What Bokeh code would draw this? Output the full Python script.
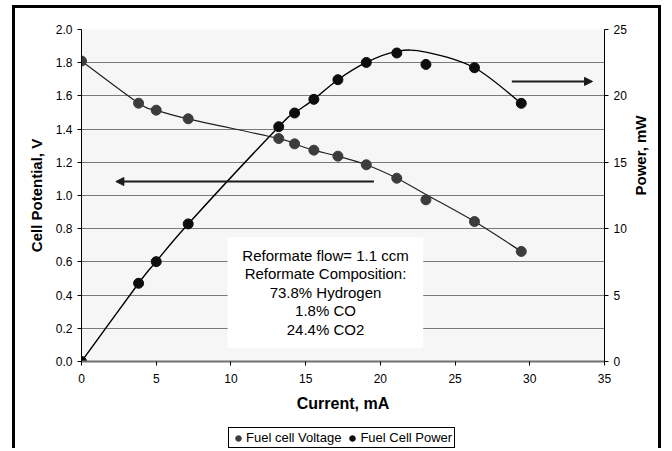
import math
import numpy as np
from bokeh.plotting import figure
from bokeh.layouts import column
from bokeh.models import (Range1d, LinearAxis, FixedTicker, PrintfTickFormatter,
                          Arrow, NormalHead, Legend, LegendItem)
from bokeh.core.properties import value
from bokeh.embed import file_html
from bokeh.resources import INLINE

# ---- data ----
current = [0.0, 3.82, 5.0, 7.14, 13.2, 14.26, 15.55, 17.16, 19.06, 21.1, 23.05, 26.3, 29.43]
voltage = [1.81, 1.556, 1.514, 1.462, 1.343, 1.311, 1.273, 1.237, 1.185, 1.104, 0.974, 0.843, 0.663]
power = [0.0, 5.89, 7.52, 10.36, 17.68, 18.71, 19.74, 21.22, 22.52, 23.23, 22.37, 22.12, 19.44]
# values followed by the drawn (smoothed) lines
voltage_line = [1.81, 1.556, 1.514, 1.462, 1.343, 1.311, 1.273, 1.237, 1.185, 1.104, 1.006, 0.843, 0.663]
power_line = [0.0, 5.89, 7.52, 10.36, 17.68, 18.71, 19.74, 21.22, 22.52, 23.35, 23.3, 22.12, 19.44]

x_ticks = [0, 5, 10, 15, 20, 25, 30, 35]
v_ticks = [0.0, 0.2, 0.4, 0.6, 0.8, 1.0, 1.2, 1.4, 1.6, 1.8, 2.0]
p_ticks = [0, 5, 10, 15, 20, 25]
note_lines = ["Reformate flow= 1.1 ccm", "Reformate Composition:",
              "73.8% Hydrogen", "1.8% CO", "24.4% CO2"]
series_names = ["Fuel cell Voltage", "Fuel Cell Power"]

FONT = "Liberation Sans"
V_COLOR = "#3c3c3c"
P_COLOR = "#0d0d0d"

p = figure(width=649, height=414, output_backend="svg", toolbar_location=None,
           x_range=Range1d(0, 35), y_range=Range1d(0, 2.0),
           min_border_left=66, min_border_right=60, min_border_top=21, min_border_bottom=61,
           background_fill_color="#f6f6f6", border_fill_color="white",
           outline_line_color=None)
p.styles = {"border-left": "3px solid black", "border-top": "3px solid black",
            "border-right": "3px solid black", "margin-left": "12px",
            "margin-top": "5px"}
p.extra_y_ranges = {"power": Range1d(0, 25)}

# grid
p.xgrid.visible = False
p.ygrid.ticker = FixedTicker(ticks=v_ticks)
p.ygrid.grid_line_color = "#7a7a7a"
p.ygrid.grid_line_width = 1.2

# axes
xa = p.xaxis[0]
xa.ticker = FixedTicker(ticks=x_ticks)
xa.axis_label = "Current, mA"
xa.axis_line_color = "#707070"
xa.axis_line_width = 2

ya = p.yaxis[0]
ya.ticker = FixedTicker(ticks=v_ticks)
ya.formatter = PrintfTickFormatter(format="%.1f")
ya.axis_label = "Cell Potential, V"
ya.axis_line_color = "black"

ra = LinearAxis(y_range_name="power", ticker=FixedTicker(ticks=p_ticks),
                axis_label="Power, mW")
p.add_layout(ra, "right")
if "axis_label_orientation" in ra.properties():
    ra.axis_label_orientation = math.pi / 2

for ax in (xa, ya, ra):
    ax.major_tick_in = 0
    ax.major_tick_out = 4
    ax.minor_tick_line_color = None
    ax.major_tick_line_color = "black"
    ax.major_label_text_font = FONT
    ax.major_label_text_font_size = "12px"
    ax.major_label_text_color = "black"
    ax.axis_label_text_font = FONT
    ax.axis_label_text_font_size = "15px"
    ax.axis_label_text_font_style = "bold"
    ax.axis_label_text_color = "black"
ra.axis_line_color = "black"
xa.axis_label_text_font_size = "16px"
xa.major_label_standoff = 8
xa.axis_label_standoff = 9
ya.axis_label_standoff = 8
ra.axis_label_standoff = 11


def smooth_segments(xv, yv):
    """Catmull-Rom style Bezier control points for a smoothed line through the points."""
    xv = np.asarray(xv, float)
    yv = np.asarray(yv, float)
    xp = np.concatenate([[xv[0]], xv, [xv[-1]]])
    yp = np.concatenate([[yv[0]], yv, [yv[-1]]])
    n = len(xv) - 1
    i = np.arange(n) + 1
    return dict(x0=xp[i], y0=yp[i], x1=xp[i + 1], y1=yp[i + 1],
                cx0=xp[i] + (xp[i + 1] - xp[i - 1]) / 6, cy0=yp[i] + (yp[i + 1] - yp[i - 1]) / 6,
                cx1=xp[i + 1] - (xp[i + 2] - xp[i]) / 6, cy1=yp[i + 1] - (yp[i + 2] - yp[i]) / 6)


p.bezier(**smooth_segments(current, voltage_line), line_color="#222222", line_width=1.2)
p.bezier(**smooth_segments(current, power_line), line_color="black", line_width=1.4,
         y_range_name="power")

p.scatter(current, voltage, size=10, fill_color=V_COLOR, line_color=V_COLOR)
p.scatter(current, power, size=10, fill_color=P_COLOR, line_color=P_COLOR,
          y_range_name="power")

# note box
p.quad(left=[9.78], right=[22.87], bottom=[0.08], top=[0.749],
       fill_color="white", line_color=None)
note_y = [0.639 - 0.1115 * i for i in range(len(note_lines))]
p.text(x=[16.33] * len(note_lines), y=note_y, text=note_lines,
       text_align="center", text_baseline="middle",
       text_font=value(FONT), text_font_size="15px", text_color="black")

# arrows
p.add_layout(Arrow(end=NormalHead(size=8, fill_color="#1a1a1a", line_color="#1a1a1a"),
                   x_start=19.57, y_start=1.084, x_end=2.3, y_end=1.084,
                   line_width=2, line_color="#1a1a1a"))
p.add_layout(Arrow(end=NormalHead(size=8, fill_color="#1a1a1a", line_color="#1a1a1a"),
                   x_start=28.8, y_start=21.09, x_end=34.2, y_end=21.09,
                   line_width=2, line_color="#1a1a1a", y_range_name="power"))

# ---- legend strip below the chart (series proxies lie outside its view) ----
q = figure(width=649, height=29, output_backend="svg", toolbar_location=None,
           x_axis_location=None, y_axis_location=None,
           x_range=Range1d(-200, -100), y_range=Range1d(-200, -100),
           min_border=0, min_border_left=0, min_border_right=0,
           min_border_top=0, min_border_bottom=0,
           background_fill_color="white", border_fill_color="white",
           outline_line_color=None)
q.styles = {"border-left": "3px solid black", "border-right": "3px solid black",
            "margin-left": "12px"}
q.xgrid.visible = False
q.ygrid.visible = False
lv = q.scatter(current, voltage, size=10, fill_color=V_COLOR, line_color=V_COLOR)
lp = q.scatter(current, power, size=10, fill_color=P_COLOR, line_color=P_COLOR)
legend = Legend(items=[LegendItem(label=series_names[0], renderers=[lv]),
                       LegendItem(label=series_names[1], renderers=[lp])],
                orientation="horizontal", location=(147, 0),
                label_text_font=FONT, label_text_font_size="13px",
                label_text_color="black",
                glyph_width=14, glyph_height=14, label_standoff=1, spacing=4,
                padding=2, margin=0, label_height=13,
                border_line_color="black", border_line_width=1, border_line_alpha=1,
                background_fill_color="white", background_fill_alpha=1)
q.add_layout(legend, "center")

layout = column(p, q, spacing=0)
open("out.html", "w").write(file_html(layout, INLINE))
